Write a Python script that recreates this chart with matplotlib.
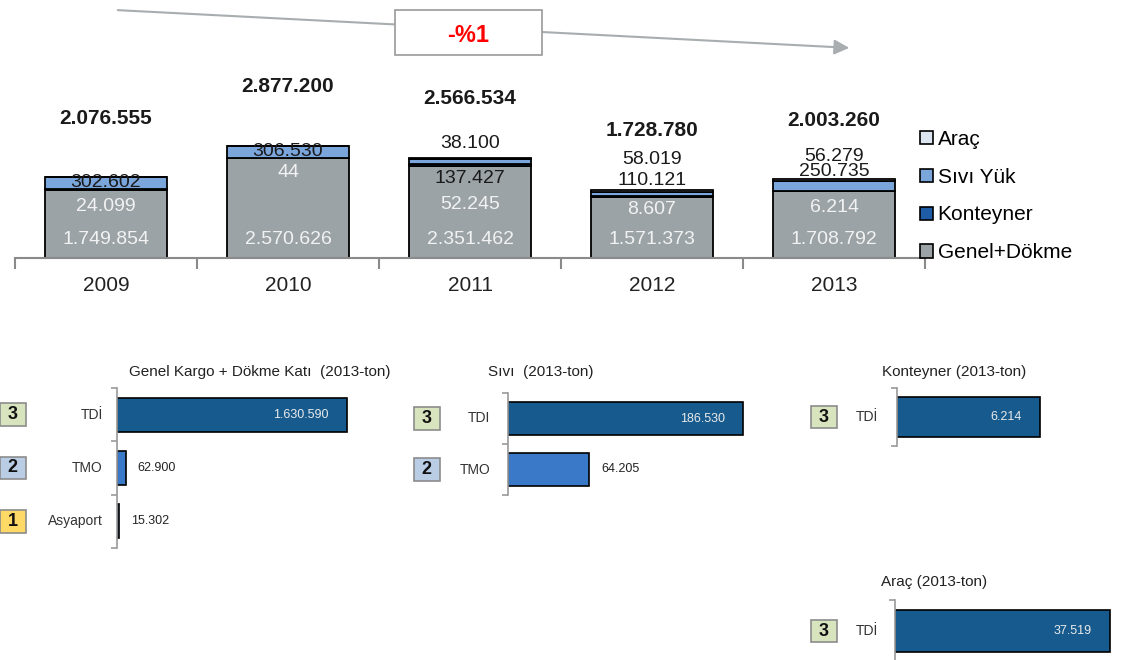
import matplotlib
matplotlib.use('Agg')
import matplotlib.pyplot as plt
from matplotlib.patches import Patch, Rectangle, FancyArrowPatch
import numpy as np

plt.rcParams['font.family'] = ['Liberation Sans', 'DejaVu Sans']

# ---------------- data ----------------
years = ['2009', '2010', '2011', '2012', '2013']
genel = [1749854, 2570626, 2351462, 1571373, 1708792]
konteyner = [24099, 44, 52245, 8607, 6214]
sivi = [302602, 306530, 137427, 110121, 250735]
arac = [0, 0, 38100, 58019, 56279]
totals = [2076555, 2877200, 2566534, 1728780, 2003260]
change_label = '-%1'

gk_names = ['TDİ', 'TMO', 'Asyaport']
gk_vals = [1630590, 62900, 15302]
gk_ranks = ['3', '2', '1']

sv_names = ['TDI', 'TMO']
sv_vals = [186530, 64205]
sv_ranks = ['3', '2']

kt_names = ['TDİ']
kt_vals = [6214]
kt_ranks = ['3']

ar_names = ['TDİ']
ar_vals = [37519]
ar_ranks = ['3']

# ---------------- style ----------------
W, H = 1130, 660
C_GENEL = '#9BA3A7'
C_KONT = '#1F5CA8'
C_SIVI = '#7AA6DC'
C_ARAC = '#DCE6F2'
COMP_COL = {'TDİ': '#175A8D', 'TDI': '#175A8D', 'TMO': '#3A78C8', 'Asyaport': '#5B7FC0'}
RANK_COL = {'3': '#D7E4BD', '2': '#B9CDE5', '1': '#FFD966'}

# label offsets (pixels) for inner labels of the stacked chart
off_kont = [-17, -15, -38, -13, -16]
off_sivi = [-5, -6, -19, 12, 10]
off_arac = [0, 0, 14, 30, 23]


def fmt(v):
    return f"{v:,}".replace(',', '.')


def fx(x):
    return x / W


def fy(y):
    return 1 - y / H


fig = plt.figure(figsize=(W / 100, H / 100), dpi=100)

# ---------------- top stacked chart ----------------
ax = fig.add_axes([fx(15), fy(258), fx(925) - fx(15), fy(40) - fy(258)])
ax.set_facecolor('none')
x = np.arange(len(years))
bw = 0.67
g = np.array(genel)
k = np.array(konteyner)
s = np.array(sivi)
a = np.array(arac)
ax.bar(x, g, bw, color=C_GENEL, edgecolor='black', lw=1.3)
ax.bar(x, k, bw, bottom=g, color=C_KONT, edgecolor='black', lw=1.3)
ax.bar(x, s, bw, bottom=g + k, color=C_SIVI, edgecolor='black', lw=1.3)
ax.bar(x, a, bw, bottom=g + k + s, color=C_ARAC, edgecolor='black', lw=1.3)
ax.set_xlim(-0.5, len(years) - 0.5)
ax.set_ylim(0, 25670 * 218)
for sp in ['top', 'right', 'left']:
    ax.spines[sp].set_visible(False)
ax.spines['bottom'].set_color('#8A8A8A')
ax.spines['bottom'].set_linewidth(1.5)
ax.set_yticks([])
ax.set_xticks(x)
ax.set_xticklabels(years, fontsize=15, color='#222222')
ax.tick_params(axis='x', which='major', length=0, pad=13)
ax.set_xticks(np.arange(-0.5, len(years)), minor=True)
ax.tick_params(axis='x', which='minor', length=8, width=1.5, color='#8A8A8A', direction='out')

top = g + k + s + a
for i in range(len(years)):
    ax.annotate(fmt(genel[i]), xy=(i, 0), xytext=(0, 18), textcoords='offset pixels',
                ha='center', va='center', fontsize=14, color='#F2F2F2')
    ax.annotate(fmt(konteyner[i]), xy=(i, g[i]), xytext=(0, off_kont[i]), textcoords='offset pixels',
                ha='center', va='center', fontsize=14, color='#F2F2F2')
    ax.annotate(fmt(sivi[i]), xy=(i, g[i] + k[i] + s[i]), xytext=(0, off_sivi[i]), textcoords='offset pixels',
                ha='center', va='center', fontsize=14, color='#1A1A1A')
    if arac[i] > 0:
        ax.annotate(fmt(arac[i]), xy=(i, top[i]), xytext=(0, off_arac[i]), textcoords='offset pixels',
                    ha='center', va='center', fontsize=14, color='#1A1A1A')
    ax.annotate(fmt(totals[i]), xy=(i, top[i]), xytext=(0, 59), textcoords='offset pixels',
                ha='center', va='center', fontsize=15, fontweight='bold', color='#1A1A1A')

handles = [Patch(facecolor=C_ARAC, edgecolor='black', lw=1.2, label='Araç'),
           Patch(facecolor=C_SIVI, edgecolor='black', lw=1.2, label='Sıvı Yük'),
           Patch(facecolor=C_KONT, edgecolor='black', lw=1.2, label='Konteyner'),
           Patch(facecolor=C_GENEL, edgecolor='black', lw=1.2, label='Genel+Dökme')]
fig.legend(handles=handles, loc='upper left', bbox_to_anchor=(fx(920), fy(130)),
           frameon=False, fontsize=15, handlelength=0.6, handleheight=0.6,
           handletextpad=0.25, labelspacing=0.9, borderaxespad=0, borderpad=0)

# trend arrow and box
arrow = FancyArrowPatch((fx(115), fy(10)), (fx(852), fy(48)), transform=fig.transFigure,
                        arrowstyle='-|>,head_length=6,head_width=3', color='#A8ADB0', lw=1.5,
                        mutation_scale=1.5)
fig.add_artist(arrow)
box = Rectangle((fx(395), fy(55)), fx(542) - fx(395), fy(10) - fy(55), transform=fig.transFigure,
                facecolor='white', edgecolor='#9A9A9A', lw=1.2, zorder=3)
fig.add_artist(box)
fig.text(fx(468), fy(35), change_label, ha='center', va='center', fontsize=17,
         fontweight='bold', color='#FF0000', zorder=4)


# ---------------- bottom panels ----------------
def panel(rect_px, names, vals, ranks, xmax, bar_h, box_off, lab_off, title, title_xy):
    x0, y0, x1, y1 = rect_px
    axp = fig.add_axes([fx(x0), fy(y1), fx(x1) - fx(x0), fy(y0) - fy(y1)])
    axp.set_facecolor('none')
    n = len(names)
    yy = np.arange(n)
    axp.barh(yy, vals, bar_h, color=[COMP_COL[nm] for nm in names], edgecolor='black', lw=1.2)
    axp.set_xlim(0, xmax)
    axp.set_ylim(n - 0.5, -0.5)
    for sp in ['top', 'right', 'bottom']:
        axp.spines[sp].set_visible(False)
    axp.spines['left'].set_color('#9A9A9A')
    axp.spines['left'].set_linewidth(1.2)
    axp.set_xticks([])
    axp.set_yticks([])
    axp.set_yticks(np.arange(-0.5, n), minor=True)
    axp.tick_params(axis='y', which='minor', length=4, width=1.2, color='#9A9A9A', direction='out')
    axp.tick_params(axis='y', which='minor', labelleft=False)
    tr = axp.get_yaxis_transform()
    mx = max(vals)
    for i, (nm, v, r) in enumerate(zip(names, vals, ranks)):
        axp.annotate(nm, xy=(0, i), xycoords=tr, xytext=(lab_off, 0), textcoords='offset pixels',
                     ha='right', va='center', fontsize=10, color='#333333')
        axp.annotate(' ' + r + ' ', xy=(0, i), xycoords=tr, xytext=(box_off, 0),
                     textcoords='offset pixels',
                     ha='center', va='center', fontsize=13, fontweight='bold', color='#111111',
                     bbox=dict(boxstyle='square,pad=0.16', facecolor=RANK_COL[r], edgecolor='#8C8C8C',
                               lw=1.2))
        if v > 0.5 * mx:
            axp.annotate(fmt(v), xy=(v, i), xytext=(-18, 0), textcoords='offset pixels',
                         ha='right', va='center', fontsize=9, color='#EAEAEA')
        else:
            axp.annotate(fmt(v), xy=(v, i), xytext=(12, 0), textcoords='offset pixels',
                         ha='left', va='center', fontsize=9, color='#222222')
    fig.text(fx(title_xy[0]), fy(title_xy[1]), title, ha='center', va='center',
             fontsize=11, color='#222222')
    return axp


panel((117, 388, 397, 548), gk_names, gk_vals, gk_ranks, 1630590 * 280 / 230, 0.64,
      -104, -14, 'Genel Kargo + Dökme Katı  (2013-ton)', (260, 372))
panel((508, 393, 768, 495), sv_names, sv_vals, sv_ranks, 186530 * 260 / 235, 0.66,
      -81, -18, 'Sıvı  (2013-ton)', (541, 372))
panel((897, 388, 1097, 446), kt_names, kt_vals, kt_ranks, 6214 * 200 / 143, 0.69,
      -73, -19, 'Konteyner (2013-ton)', (954, 372))
panel((895, 600, 1125, 662), ar_names, ar_vals, ar_ranks, 37519 * 230 / 215, 0.68,
      -71, -17, 'Araç (2013-ton)', (934, 582))

fig.savefig('out.png', dpi=100)
